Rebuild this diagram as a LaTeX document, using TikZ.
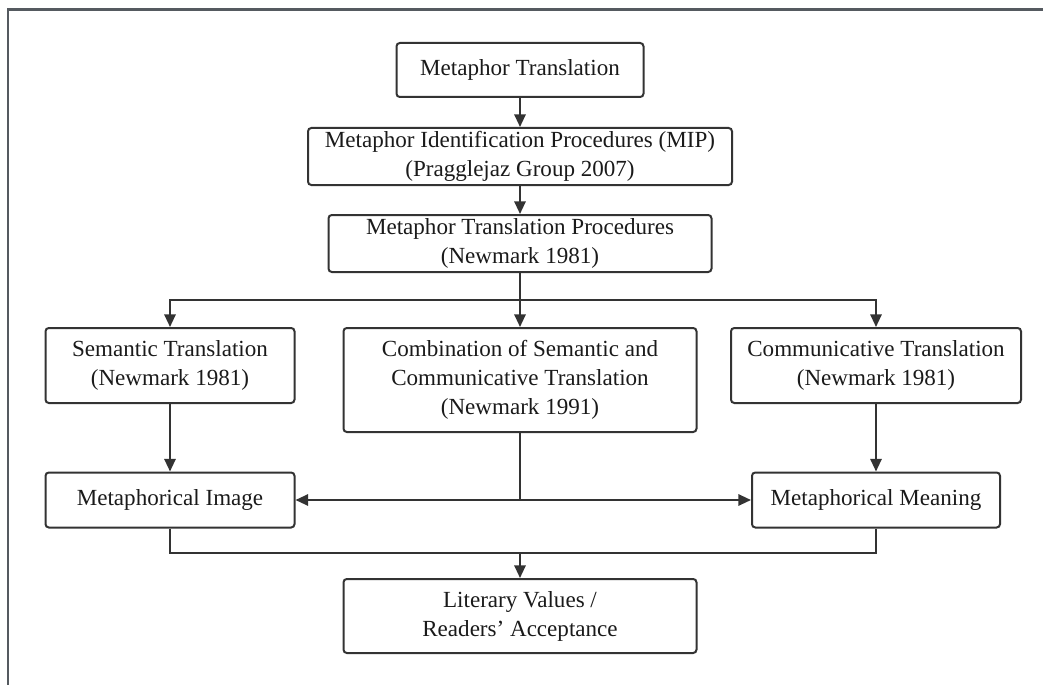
\documentclass[tikz,border=0pt]{standalone}
\usepackage{fontspec}
\setmainfont{Liberation Serif}
\usetikzlibrary{arrows.meta}
\definecolor{linec}{HTML}{333333}
\definecolor{framec}{HTML}{555A60}
\definecolor{textc}{HTML}{1A1A1A}
\begin{document}
\begin{tikzpicture}[x=0.75pt,y=-0.75pt,
  box/.style={draw=linec,line width=1.5pt,rounded corners=2.5pt,inner sep=0pt,align=center,
    text=textc,font=\fontsize{17.3}{21.8}\selectfont},
  conn/.style={draw=linec,line width=1.5pt,-{Triangle[length=9.5pt,width=8.5pt]}},
  plain/.style={draw=linec,line width=1.5pt},
  frame/.style={draw=framec,line width=1.6pt}]
\useasboundingbox (0,0) rectangle (1043,685);
\draw[frame] (8,685) -- (8,9.5) -- (1043,9.5);

\node[box,minimum width=247*0.75pt,minimum height=54*0.75pt] (b1) at (520,70) {Metaphor Translation};
\node[box,minimum width=424*0.75pt,minimum height=57*0.75pt] (b2) at (520,156.5) {Metaphor Identification Procedures (MIP)\\(Pragglejaz Group 2007)};
\node[box,minimum width=383*0.75pt,minimum height=57*0.75pt] (b3) at (520,243.5) {Metaphor Translation Procedures\\(Newmark 1981)};
\node[box,minimum width=249*0.75pt,minimum height=75*0.75pt] (sem) at (170,365.5) {Semantic Translation\\(Newmark 1981)};
\node[box,minimum width=353*0.75pt,minimum height=104*0.75pt] (comb) at (520,380) {Combination of Semantic and\\Communicative Translation\\(Newmark 1991)};
\node[box,minimum width=290*0.75pt,minimum height=75*0.75pt] (comm) at (876,365.5) {Communicative Translation\\(Newmark 1981)};
\node[box,minimum width=249*0.75pt,minimum height=55*0.75pt] (img) at (170,500) {Metaphorical Image};
\node[box,minimum width=248*0.75pt,minimum height=55*0.75pt] (mean) at (876,500) {Metaphorical Meaning};
\node[box,minimum width=353*0.75pt,minimum height=74*0.75pt] (lit) at (520,616) {Literary Values /\\Readers’ Acceptance};

\coordinate (split) at (520,300);
\coordinate (merge) at (520,553);

\draw[conn] (b1) -- (b2);
\draw[conn] (b2) -- (b3);
\draw[conn] (b3) -- (comb);
\draw[conn] (split) -| (sem.north);
\draw[conn] (split) -| (comm.north);
\draw[conn] (sem) -- (img);
\draw[conn] (comm) -- (mean);
\draw[conn] (comb.south) |- (img.east);
\draw[conn] (comb.south) |- (mean.west);
\draw[plain] (img.south) |- (merge);
\draw[plain] (mean.south) |- (merge);
\draw[conn] (merge) -- (lit.north);
\end{tikzpicture}
\end{document}
